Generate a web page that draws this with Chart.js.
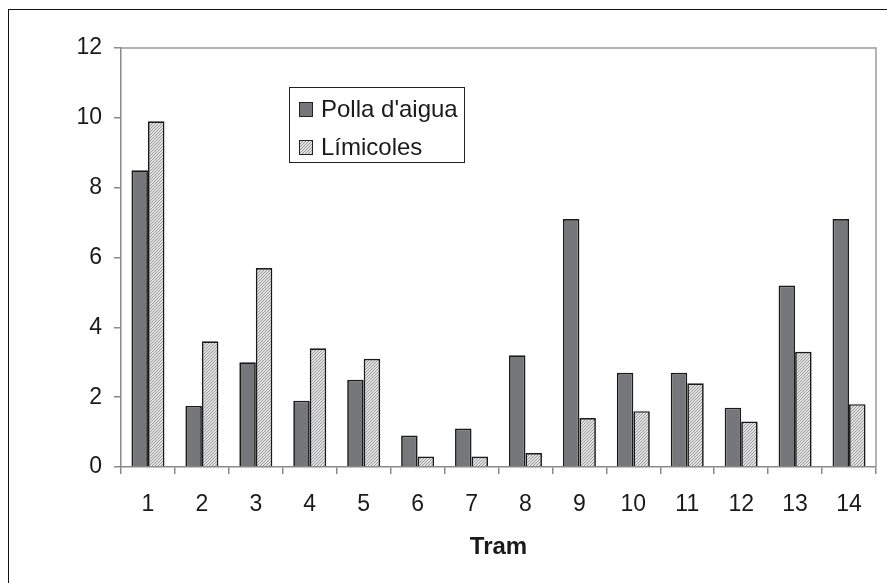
<!DOCTYPE html>
<html>
<head>
<meta charset="utf-8">
<script src="https://cdn.jsdelivr.net/npm/chart.js@4"></script>
<style>
  html, body { margin: 0; padding: 0; background: #fff; }
  #wrap { position: relative; width: 887px; height: 583px; overflow: hidden; }
  /* marc exterior (només es veu a dalt i a l'esquerra) */
  #frame { position: absolute; left: 8px; top: 9px; width: 1000px; height: 700px;
           border-top: 1.5px solid #111; border-left: 1.5px solid #111; }
  #chart { position: absolute; left: 0; top: 0; }
</style>
</head>
<body>
<div id="wrap">
  <div id="frame"></div>
  <canvas id="chart" width="887" height="583"></canvas>
</div>
<script>
// dades
const trams = ['1', '2', '3', '4', '5', '6', '7', '8', '9', '10', '11', '12', '13', '14'];
const pollaAigua = [8.5, 1.75, 3.0, 1.9, 2.5, 0.9, 1.1, 3.2, 7.1, 2.7, 2.7, 1.7, 5.2, 7.1];
const limicoles = [9.9, 3.6, 5.7, 3.4, 3.1, 0.3, 0.3, 0.4, 1.4, 1.6, 2.4, 1.3, 3.3, 1.8];
const yTicks = [0, 2, 4, 6, 8, 10, 12];

const FONT = '"Liberation Sans", Arial, sans-serif';

// trama ratllada fina per a Límicoles
function makeHatch() {
  const c = document.createElement('canvas');
  c.width = 3; c.height = 3;
  const g = c.getContext('2d');
  g.fillStyle = '#e2e2e2';
  g.fillRect(0, 0, 3, 3);
  g.fillStyle = '#9a9a9a';
  for (let i = 0; i < 3; i++) g.fillRect(i, 2 - i, 1, 1);
  return g.createPattern(c, 'repeat');
}
const hatch = makeHatch();

// vora gris de l'àrea del gràfic
const plotBorder = {
  id: 'plotBorder',
  beforeDatasetsDraw(chart) {
    const a = chart.chartArea;
    const ctx = chart.ctx;
    ctx.save();
    ctx.strokeStyle = '#9a9a9a';
    ctx.lineWidth = 1.5;
    ctx.beginPath();
    ctx.moveTo(a.left, a.top);
    ctx.lineTo(a.right, a.top);
    ctx.lineTo(a.right, a.bottom);
    ctx.stroke();
    ctx.restore();
  }
};

// llegenda dins el gràfic
const legendBox = {
  id: 'legendBox',
  afterDraw(chart) {
    const a = chart.chartArea;
    const ctx = chart.ctx;
    const x = a.left + 168, y = a.top + 39;
    ctx.save();
    ctx.fillStyle = '#fff';
    ctx.fillRect(x, y, 175, 75);
    ctx.strokeStyle = '#222';
    ctx.lineWidth = 1;
    ctx.strokeRect(x + 0.5, y + 0.5, 175, 75);
    chart.data.datasets.forEach((ds, i) => {
      const cy = y + 22 + i * 38;
      ctx.fillStyle = ds.backgroundColor;
      ctx.fillRect(x + 10, cy - 7, 13, 14);
      ctx.strokeStyle = '#222';
      ctx.strokeRect(x + 10.5, cy - 6.5, 13, 14);
      ctx.fillStyle = '#1a1a1a';
      ctx.font = '24px ' + FONT;
      ctx.textBaseline = 'middle';
      ctx.fillText(ds.label, x + 32, cy + 1);
    });
    ctx.restore();
  }
};

new Chart(document.getElementById('chart'), {
  type: 'bar',
  data: {
    labels: trams,
    datasets: [
      {
        label: "Polla d'aigua",
        data: pollaAigua,
        backgroundColor: '#76777b',
        borderColor: '#1a1a1a',
        borderWidth: 1.7
      },
      {
        label: 'Límicoles',
        data: limicoles,
        backgroundColor: hatch,
        borderColor: '#1a1a1a',
        borderWidth: 1.7
      }
    ]
  },
  options: {
    responsive: false,
    animation: false,
    devicePixelRatio: 1,
    categoryPercentage: 0.612,
    barPercentage: 1.0,
    layout: { padding: { left: 0, top: 48, right: 11, bottom: 0 } },
    plugins: {
      legend: { display: false },
      tooltip: { enabled: false }
    },
    scales: {
      x: {
        grid: {
          display: true,
          drawOnChartArea: false,
          drawTicks: true,
          tickLength: 7,
          color: '#8a8a8a',
          lineWidth: 1.5
        },
        border: { display: true, color: '#8a8a8a', width: 1.5 },
        ticks: {
          color: '#1a1a1a',
          font: { family: FONT, size: 23 },
          padding: 17,
          maxRotation: 0
        },
        title: {
          display: true,
          text: 'Tram',
          color: '#1a1a1a',
          font: { family: FONT, size: 24, weight: 'bold' },
          padding: { top: 0, bottom: 21 }
        },
        afterFit(scale) { scale.height = 116; }
      },
      y: {
        min: 0,
        max: 12,
        afterBuildTicks(scale) { scale.ticks = yTicks.map(v => ({ value: v })); },
        grid: {
          display: true,
          drawOnChartArea: false,
          drawTicks: true,
          tickLength: 7,
          color: '#8a8a8a',
          lineWidth: 1.5
        },
        border: { display: true, color: '#8a8a8a', width: 1.5 },
        ticks: {
          color: '#1a1a1a',
          font: { family: FONT, size: 23 },
          padding: 12
        },
        afterFit(scale) { scale.width = 121; }
      }
    }
  },
  plugins: [plotBorder, legendBox]
});
</script>
</body>
</html>
